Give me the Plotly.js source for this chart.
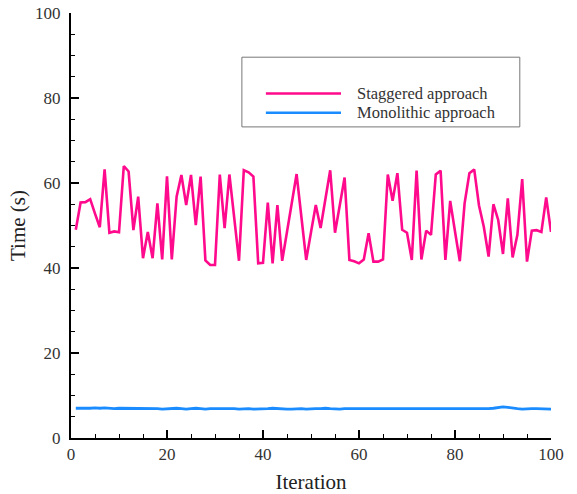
<!DOCTYPE html>
<html>
<head>
<meta charset="utf-8">
<script src="https://cdn.plot.ly/plotly-3.0.1.min.js"></script>
<style>html,body{margin:0;padding:0;background:#fff;}#chart{width:577px;height:494px;}</style>
</head>
<body>
<div id="chart"></div>
<script>
const iterations = Array.from({length: 100}, (_, i) => i + 1);

const staggered = [
  49.0, 55.4, 55.5, 56.2, 52.8, 49.6, 63.2, 48.3, 48.6, 48.4,
  64.0, 62.7, 48.9, 56.8, 42.3, 48.5, 42.3, 55.2, 42.0, 61.6,
  42.0, 56.8, 61.9, 54.8, 61.9, 50.1, 61.5, 41.8, 40.7, 40.7,
  62.0, 49.4, 62.0, 52.0, 41.7, 63.0, 62.5, 61.5, 41.1, 41.2,
  55.4, 41.1, 54.8, 41.7, 48.5, 55.3, 62.1, 52.0, 41.9, 48.4,
  54.8, 49.4, 56.0, 63.0, 48.3, 55.0, 61.3, 41.9, 41.6, 41.1,
  42.0, 48.2, 41.5, 41.5, 42.0, 62.0, 55.8, 62.3, 49.0, 48.3,
  41.9, 62.9, 42.0, 48.8, 47.8, 62.0, 62.9, 41.9, 55.8, 48.6,
  41.6, 55.2, 62.3, 63.2, 54.7, 49.7, 42.7, 55.0, 51.3, 43.3,
  56.4, 42.5, 47.8, 60.9, 41.5, 48.8, 48.9, 48.5, 56.6, 48.5
];

const monolithic = [
  7.0, 7.0, 6.9, 7.0, 7.1, 7.0, 7.1, 7.0, 6.9, 7.0,
  7.0, 6.9, 7.0, 7.0, 6.9, 7.0, 7.0, 6.9, 6.8, 6.9,
  7.0, 7.0, 6.9, 6.8, 6.9, 7.0, 6.9, 6.8, 6.9, 6.9,
  7.0, 7.0, 6.9, 6.9, 6.8, 6.9, 6.9, 6.8, 6.8, 6.9,
  6.9, 7.0, 6.9, 6.9, 6.8, 6.8, 6.9, 6.9, 6.8, 6.9,
  6.9, 6.9, 7.0, 6.9, 6.8, 6.8, 6.9, 6.9, 6.8, 6.8,
  6.9, 6.9, 6.9, 6.9, 6.9, 6.9, 6.9, 6.9, 6.9, 6.9,
  6.9, 6.9, 6.9, 6.9, 6.8, 6.8, 6.9, 6.9, 6.9, 6.8,
  6.8, 6.9, 6.9, 6.8, 6.9, 6.8, 6.9, 7.0, 7.2, 7.3,
  7.2, 7.0, 6.9, 6.8, 6.9, 6.9, 6.9, 6.9, 6.9, 6.8
];

const seriesNames = ['Staggered approach', 'Monolithic approach'];
const seriesColors = ['#ff0a8c', '#1a8cff'];

const xTicks = [0, 20, 40, 60, 80, 100];
const yTicks = [0, 20, 40, 60, 80, 100];

const serif = '"Liberation Serif", "Times New Roman", serif';

const traces = [
  {x: iterations, y: staggered, type: 'scatter', mode: 'lines', name: seriesNames[0],
   line: {color: seriesColors[0], width: 2.6}, showlegend: false},
  {x: iterations, y: monolithic, type: 'scatter', mode: 'lines', name: seriesNames[1],
   line: {color: seriesColors[1], width: 2.8}, showlegend: false}
];

// legend drawn as box + sample lines + text (paper coordinates)
const legX0 = 0.356, legX1 = 0.935, legY0 = 0.732, legY1 = 0.896;
const sampleX0 = 0.406, sampleX1 = 0.5625, textX = 0.592;
const rowY = [0.8106, 0.7654];

const shapes = [
  {type: 'rect', xref: 'paper', yref: 'paper', x0: legX0, x1: legX1, y0: legY0, y1: legY1,
   line: {color: '#777', width: 1}, fillcolor: 'rgba(0,0,0,0)'}
];
const annotations = [];
seriesNames.forEach((n, i) => {
  shapes.push({type: 'line', xref: 'paper', yref: 'paper', x0: sampleX0, x1: sampleX1,
    y0: rowY[i], y1: rowY[i], line: {color: seriesColors[i], width: 2.6}});
  annotations.push({xref: 'paper', yref: 'paper', x: textX, y: rowY[i], xanchor: 'left',
    yanchor: 'middle', text: n, showarrow: false, font: {family: serif, size: 16.5, color: '#333'}});
});

const layout = {
  width: 577, height: 494,
  margin: {l: 71, r: 26, t: 13, b: 56},
  paper_bgcolor: '#fff', plot_bgcolor: '#fff',
  showlegend: false,
  xaxis: {
    range: [0, 100], tickvals: xTicks, ticktext: xTicks.map(String),
    ticks: 'inside', ticklen: 8, tickwidth: 1.5, tickcolor: '#000',
    minor: {ticks: 'inside', dtick: 5, ticklen: 4, tickwidth: 1, tickcolor: '#000', showgrid: false},
    showline: true, linecolor: '#000', linewidth: 2, showgrid: false, zeroline: false,
    tickfont: {family: serif, size: 17, color: '#333'},
    title: {text: 'Iteration', font: {family: serif, size: 21, color: '#222'}, standoff: 12}
  },
  yaxis: {
    range: [0, 100], tickvals: yTicks, ticktext: yTicks.map(String),
    ticks: 'inside', ticklen: 8, tickwidth: 1.5, tickcolor: '#000',
    minor: {ticks: 'inside', dtick: 5, ticklen: 4, tickwidth: 1, tickcolor: '#000', showgrid: false},
    showline: true, linecolor: '#000', linewidth: 2, showgrid: false, zeroline: false,
    ticklabelstandoff: 5,
    tickfont: {family: serif, size: 17, color: '#333'},
    title: {text: 'Time (s)', font: {family: serif, size: 21, color: '#222'}, standoff: 4}
  },
  shapes: shapes,
  annotations: annotations
};

Plotly.newPlot('chart', traces, layout, {displayModeBar: false, staticPlot: true});
</script>
</body>
</html>
